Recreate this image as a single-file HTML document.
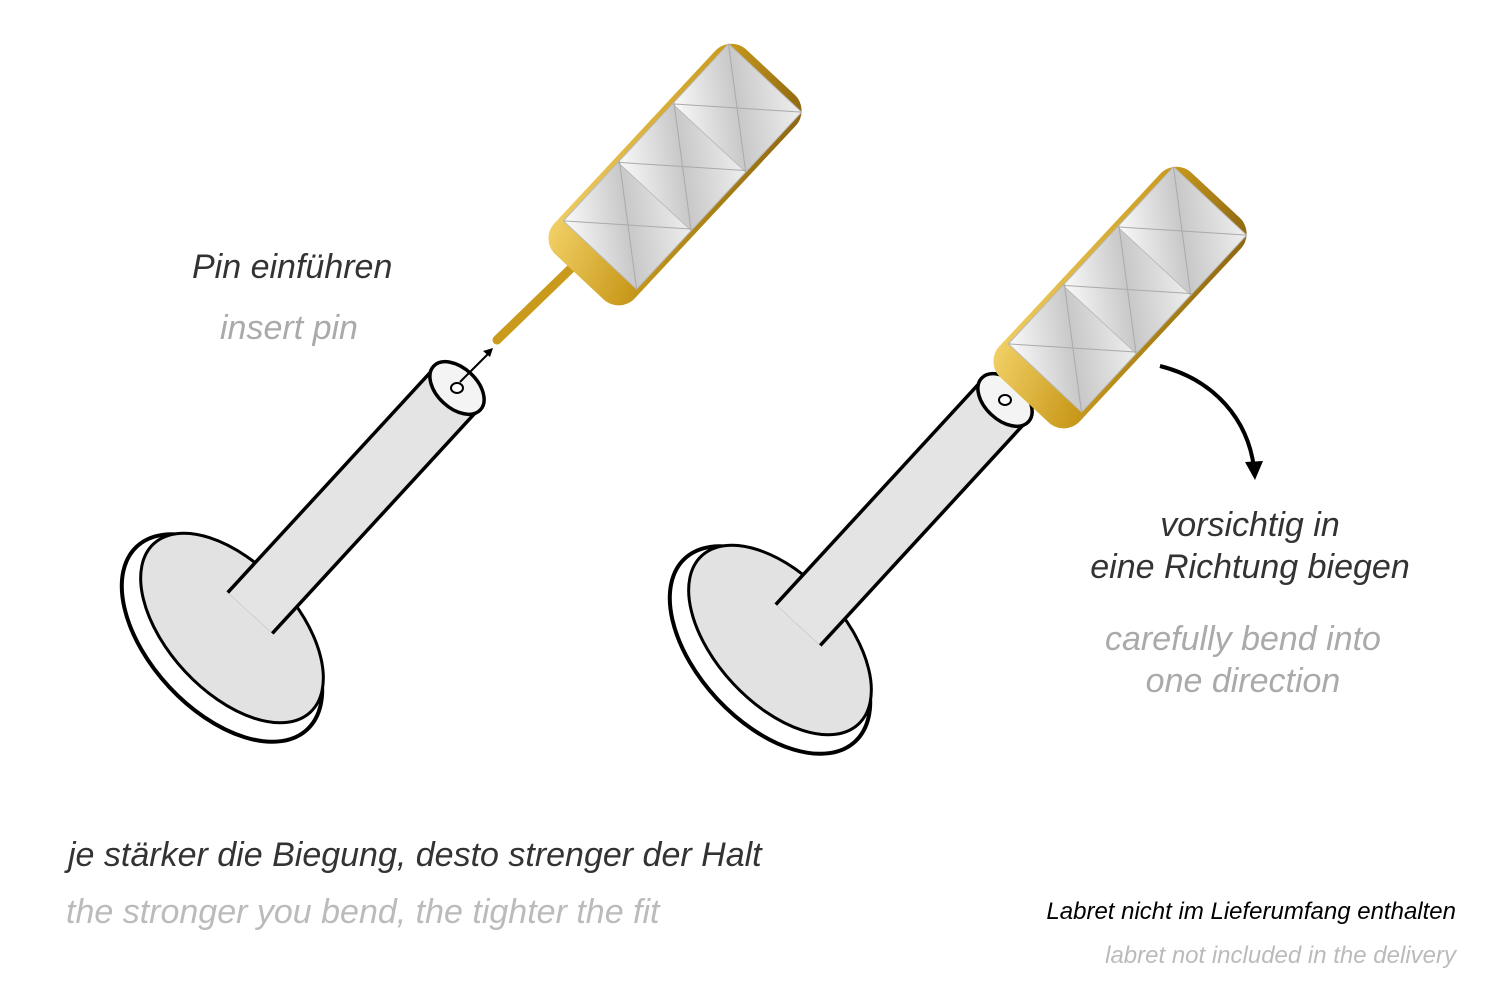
<!DOCTYPE html>
<html><head><meta charset="utf-8"><style>
body{margin:0;width:1500px;height:1001px;background:#fff;overflow:hidden;position:relative;font-family:"Liberation Sans",sans-serif;font-style:italic}
.t{position:absolute;white-space:nowrap}
</style></head><body>
<svg width="1500" height="1001" style="position:absolute;left:0;top:0">
<defs>
<linearGradient id="gold" x1="0" y1="0" x2="1" y2="1"><stop offset="0" stop-color="#f4d36a"/><stop offset=".5" stop-color="#c99a1c"/><stop offset="1" stop-color="#8a6410"/></linearGradient>
<linearGradient id="gem" x1="0" y1="0" x2="1" y2="1"><stop offset="0" stop-color="#fafafa"/><stop offset=".5" stop-color="#c8c8c8"/><stop offset="1" stop-color="#efefef"/></linearGradient>
<g id="lab">
 <ellipse cx="0" cy="0" rx="125" ry="72" transform="rotate(47)" fill="#fff" stroke="#000" stroke-width="4"/>
 <ellipse cx="10" cy="-10" rx="115" ry="64" transform="rotate(47 10 -10)" fill="#e2e2e2" stroke="#000" stroke-width="3"/>
 <line x1="28" y1="-25" x2="235" y2="-250" stroke="#000" stroke-width="64"/>
 <line x1="28" y1="-25" x2="235" y2="-250" stroke="#e4e4e4" stroke-width="57"/>
 <ellipse cx="235" cy="-250" rx="32" ry="20" transform="rotate(43 235 -250)" fill="#f4f4f4" stroke="#000" stroke-width="3.5"/>
 <ellipse cx="235" cy="-250" rx="6" ry="5" fill="#fff" stroke="#000" stroke-width="2"/>
</g>
<g id="gemg">
 <rect x="-30" y="-55" width="280" height="110" rx="22" fill="url(#gold)"/>
 <rect x="0" y="-50" width="82" height="100" fill="url(#gem)" stroke="#bbb"/>
 <rect x="80" y="-50" width="82" height="100" fill="url(#gem)" stroke="#bbb"/>
 <rect x="160" y="-50" width="82" height="100" fill="url(#gem)" stroke="#bbb"/>
 <path d="M0 -50L41 0L0 50M82 -50L41 0L82 50M80 -50L121 0L80 50M162 -50L121 0L162 50M160 -50L201 0L160 50M242 -50L201 0L242 50" stroke="#aaa" fill="none"/>
</g>
</defs>
<use href="#lab" x="222" y="638"/>
<use href="#lab" x="770" y="650"/>
<line x1="497" y1="340" x2="590" y2="250" stroke="#c99a1c" stroke-width="9" stroke-linecap="round"/>
<use href="#gemg" transform="translate(600 255) rotate(-47)"/>
<use href="#gemg" transform="translate(1045 378) rotate(-47)"/>
<line x1="460" y1="382" x2="490" y2="352" stroke="#000" stroke-width="2"/>
<path d="M493 348l-10 3 7 6z" fill="#000"/>
<path d="M1160 366 C1215 380 1248 420 1254 468" stroke="#000" stroke-width="4" fill="none"/>
<path d="M1245 462l10 18 8-19z" fill="#000"/>
</svg>
<div class="t" style="left:192px;top:248px;font-size:34px;color:#333">Pin einführen</div>
<div class="t" style="left:220px;top:309px;font-size:34px;color:#aaa">insert pin</div>
<div class="t" style="left:1050px;top:504px;width:400px;text-align:center;font-size:34px;color:#333;line-height:42px">vorsichtig in<br>eine Richtung biegen</div>
<div class="t" style="left:1043px;top:618px;width:400px;text-align:center;font-size:34px;color:#aaa;line-height:42px">carefully bend into<br>one direction</div>
<div class="t" style="left:68px;top:836px;font-size:34px;color:#333">je stärker die Biegung, desto strenger der Halt</div>
<div class="t" style="left:66px;top:893px;font-size:34px;color:#bbb">the stronger you bend, the tighter the fit</div>
<div class="t" style="right:44px;top:898px;font-size:24px;color:#000">Labret nicht im Lieferumfang enthalten</div>
<div class="t" style="right:44px;top:942px;font-size:24px;color:#bbb">labret not included in the delivery</div>
</body></html>
